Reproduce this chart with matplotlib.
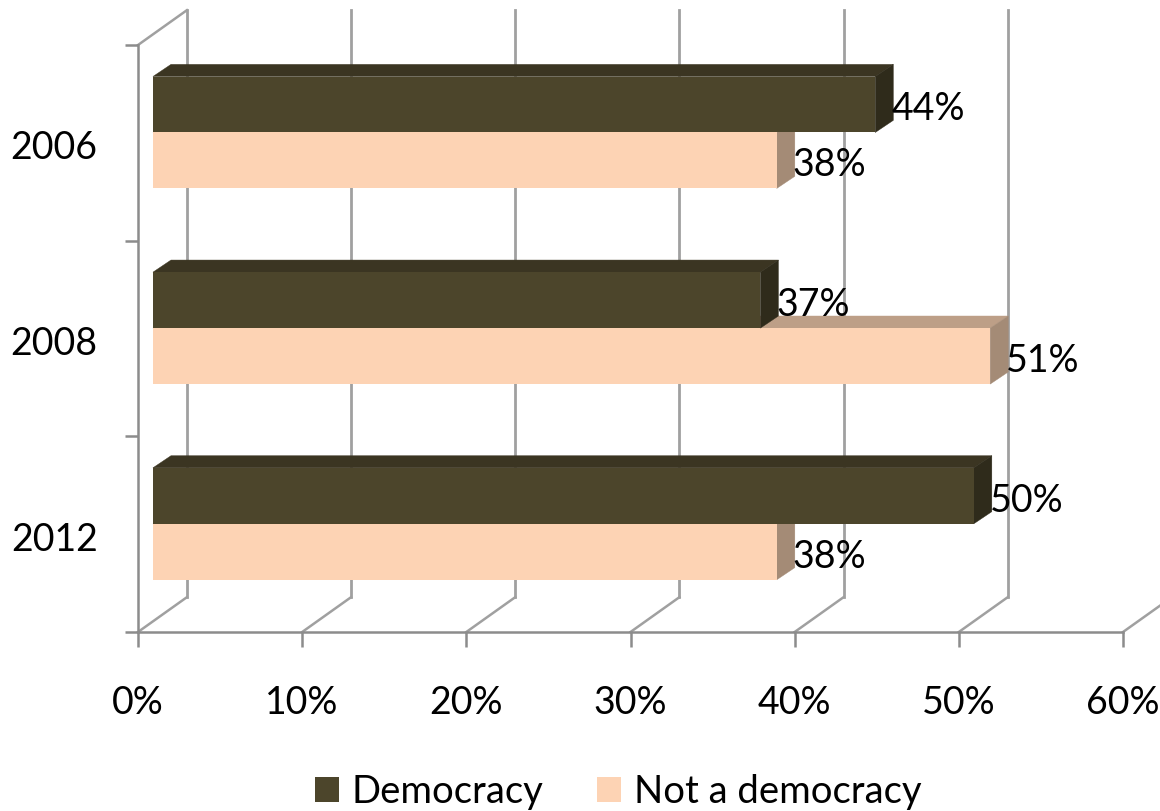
import matplotlib
matplotlib.use("Agg")
import matplotlib.pyplot as plt
from matplotlib.patches import Patch, Polygon

# ------------------------------
# Data
# ------------------------------
years = ["2006", "2008", "2012"]
democracy = [44, 37, 50]
not_democracy = [38, 51, 38]
x_ticks = [0, 10, 20, 30, 40, 50, 60]

# ------------------------------
# Style
# ------------------------------
W, H = 1160, 811
DEM_COLORS = ("#4c452b", "#3b3522", "#2f2b1b")   # front, top, side
NOT_COLORS = ("#fdd3b4", "#bd9f87", "#a48b76")
GRID = "#a0a0a0"
AXIS = "#8c8c8c"
FONT = 27
LEGEND_FONT = 27.5

# depth of the fake 3d box, in data units
WALL_DX, WALL_DY = 2.98, 0.178
BAR_DX, BAR_DY = 1.1, 0.062
SHIFT_DX, SHIFT_DY = 0.91, 0.053
BAR_H = 0.286

plt.rcParams["font.family"] = ["Lato", "DejaVu Sans"]

fig = plt.figure(figsize=(W / 100, H / 100), dpi=100)
ax = fig.add_axes([138 / W, 1 - 632 / H, (1123 - 138) / W, (632 - 45) / H])
ax.set_xlim(0, 60)
ax.set_ylim(3, 0)
ax.patch.set_visible(False)
for side in ["top", "right"]:
    ax.spines[side].set_visible(False)
for side in ["left", "bottom"]:
    ax.spines[side].set_color(AXIS)
    ax.spines[side].set_linewidth(1.8)


def add_bar(x0, x1, y0, colors, z):
    # y0 is the top edge of the front face
    y1 = y0 + BAR_H
    ax.add_patch(Polygon([(x0, y0), (x1, y0), (x1 + BAR_DX, y0 - BAR_DY), (x0 + BAR_DX, y0 - BAR_DY)],
                         fc=colors[1], ec=colors[1], lw=0.3, zorder=z, clip_on=False))
    ax.add_patch(Polygon([(x1, y0), (x1 + BAR_DX, y0 - BAR_DY), (x1 + BAR_DX, y1 - BAR_DY), (x1, y1)],
                         fc=colors[2], ec=colors[2], lw=0.3, zorder=z, clip_on=False))
    ax.add_patch(Polygon([(x0, y0), (x1, y0), (x1, y1), (x0, y1)],
                         fc=colors[0], ec="none", zorder=z + 0.1, clip_on=False))


# ------------------------------
# Walls and floor
# ------------------------------
for t in x_ticks:
    ax.plot([t, t + WALL_DX], [3, 3 - WALL_DY], color=GRID, lw=1.8, zorder=1, clip_on=False)
    if t < 60:
        ax.plot([t + WALL_DX, t + WALL_DX], [3 - WALL_DY, -WALL_DY], color=GRID, lw=2.0, zorder=1, clip_on=False)
ax.plot([0, WALL_DX], [0, -WALL_DY], color=GRID, lw=1.8, zorder=1, clip_on=False)

# ------------------------------
# Bars
# ------------------------------
for i, year in enumerate(years):
    centre = i + 0.5 - SHIFT_DY
    add_bar(SHIFT_DX, democracy[i] + SHIFT_DX, centre - BAR_H, DEM_COLORS, 4)
    add_bar(SHIFT_DX, not_democracy[i] + SHIFT_DX, centre, NOT_COLORS, 3)

    ax.annotate(f"{democracy[i]}%", (democracy[i] + SHIFT_DX, centre - BAR_H / 2),
                xytext=(11.5, -3.5), textcoords="offset points", va="center", ha="left",
                fontsize=FONT, color="black", zorder=6)
    ax.annotate(f"{not_democracy[i]}%", (not_democracy[i] + SHIFT_DX, centre + BAR_H / 2),
                xytext=(11.5, -3.5), textcoords="offset points", va="center", ha="left",
                fontsize=FONT, color="black", zorder=6)

# ------------------------------
# Axes
# ------------------------------
ax.set_xticks(x_ticks)
ax.set_xticklabels([f"{t}%" for t in x_ticks], fontsize=FONT)
ax.tick_params(axis="x", length=10.5, width=1.8, color=AXIS, pad=28)

ax.set_yticks([0, 1, 2, 3])
ax.set_yticklabels([])
ax.tick_params(axis="y", length=9.5, width=1.8, color=AXIS)
ax.set_yticks([0.51, 1.51, 2.51], minor=True)
ax.set_yticklabels(years, minor=True, fontsize=FONT)
ax.tick_params(axis="y", which="minor", length=0, pad=29)

handles = [Patch(fc=DEM_COLORS[0], label="Democracy"), Patch(fc=NOT_COLORS[0], label="Not a democracy")]
fig.legend(handles=handles, loc="center", bbox_to_anchor=(618 / W, 1 - 792 / H), ncols=2, frameon=False,
           fontsize=LEGEND_FONT, handlelength=0.63, handleheight=0.63, handletextpad=0.34,
           columnspacing=1.39, borderpad=0, borderaxespad=0)

fig.savefig("out.png", dpi=100)
